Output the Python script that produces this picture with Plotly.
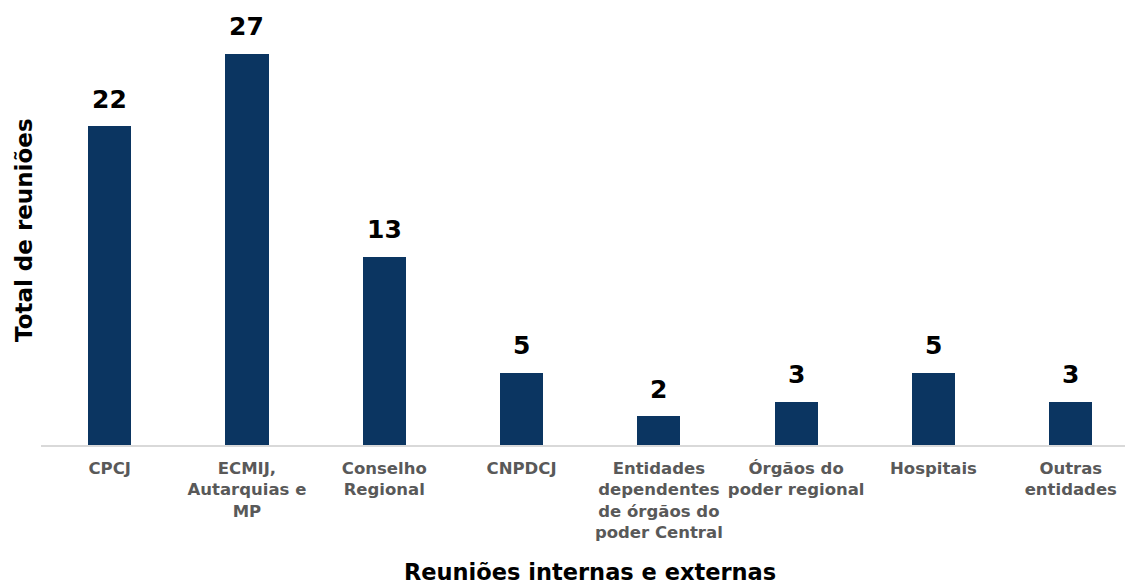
import plotly.graph_objects as go

categories = [
    "CPCJ",
    "ECMIJ,<br>Autarquias e<br>MP",
    "Conselho<br>Regional",
    "CNPDCJ",
    "Entidades<br>dependentes<br>de órgãos do<br>poder Central",
    "Órgãos do<br>poder regional",
    "Hospitais",
    "Outras<br>entidades",
]
values = [22, 27, 13, 5, 2, 3, 5, 3]

x_title = "Reuniões internas e externas"
y_title = "Total de reuniões"

BAR = "#0B3561"
FONT = "DejaVu Sans"

W, H = 1125, 586
ML, MR, MT, MB = 41, 0, 10, 141
plot_h = H - MT - MB
plot_w = W - ML - MR

fig = go.Figure()
fig.add_trace(go.Bar(
    x=list(range(len(categories))),
    y=values,
    marker=dict(color=BAR, line=dict(width=0)),
    width=0.315,
    hoverinfo="skip",
))

for i, v in enumerate(values):
    fig.add_annotation(
        x=i, y=v, xref="x", yref="y",
        text=f"<b>{v}</b>", showarrow=False,
        yanchor="middle", yshift=27,
        font=dict(family=FONT, size=25, color="#000000"),
    )

fig.add_annotation(
    x=(590 - ML) / plot_w, y=(H - MB - 572) / plot_h,
    xref="paper", yref="paper", text=f"<b>{x_title}</b>", showarrow=False,
    xanchor="center", yanchor="middle",
    font=dict(family=FONT, size=22.5, color="#000000"),
)
fig.add_annotation(
    x=(24 - ML) / plot_w, y=(H - MB - 230) / plot_h,
    xref="paper", yref="paper", text=f"<b>{y_title}</b>", showarrow=False,
    textangle=-90, xanchor="center", yanchor="middle",
    font=dict(family=FONT, size=23, color="#000000"),
)

fig.update_layout(
    width=W, height=H,
    margin=dict(l=ML, r=MR, t=MT, b=MB, autoexpand=False),
    paper_bgcolor="white", plot_bgcolor="white",
    showlegend=False,
    bargap=0,
    xaxis=dict(
        range=[-0.5, 7.395],
        tickmode="array",
        tickvals=list(range(len(categories))),
        ticktext=[f"<b>{c}</b>" for c in categories],
        tickfont=dict(family=FONT, size=16.5, color="#595959"),
        tickangle=0,
        automargin=False,
        showline=True, linecolor="#D9D9D9", linewidth=2,
        ticks="", showgrid=False, zeroline=False,
        ticklabelstandoff=7,
    ),
    yaxis=dict(
        range=[0, 30],
        showticklabels=False, showgrid=False, zeroline=False,
        showline=False, ticks="", automargin=False,
    ),
)

fig.write_html("out.html")
